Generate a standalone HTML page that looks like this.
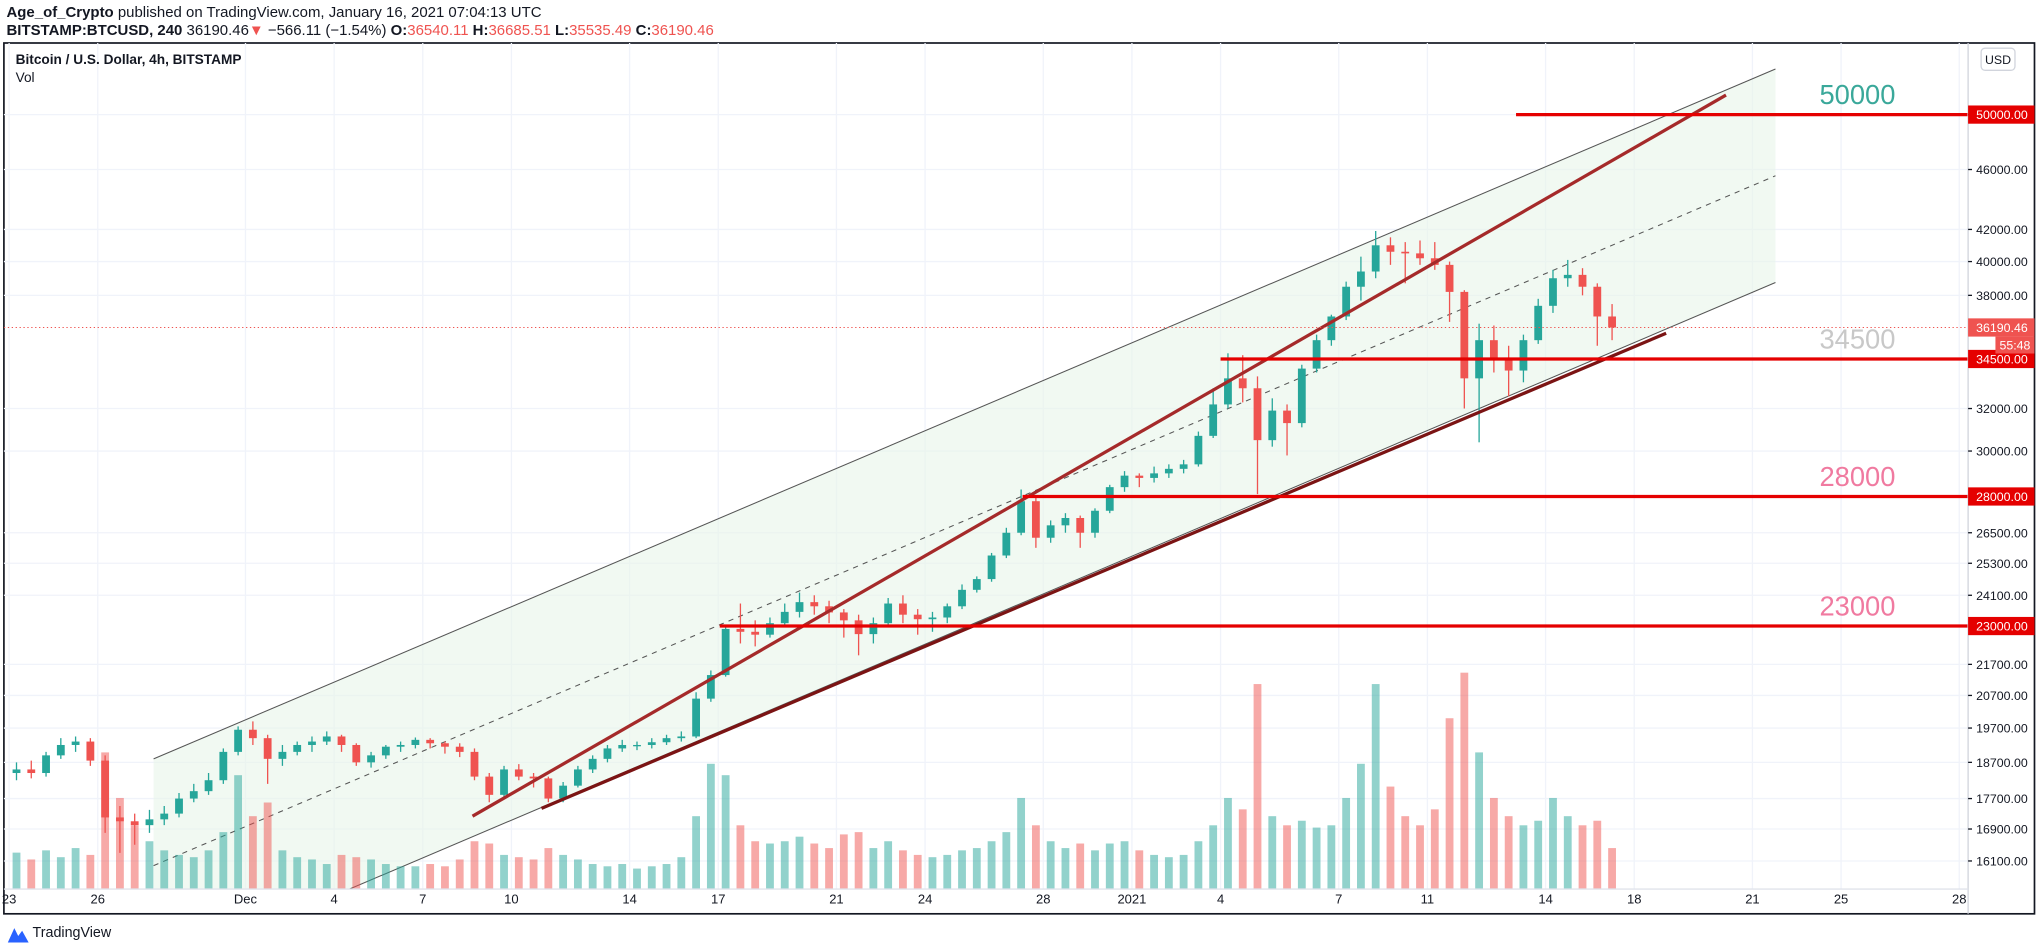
<!DOCTYPE html>
<html><head><meta charset="utf-8"><style>
html,body{margin:0;padding:0;background:#fff;}
svg{display:block;font-family:"Liberation Sans",sans-serif;}
</style></head><body>
<svg id="chart" width="2041" height="949" viewBox="0 0 1568 729" xmlns="http://www.w3.org/2000/svg">
<rect width="1568" height="729" fill="#fff"/>
<text x="5" y="13" font-size="11.5" fill="#131722"><tspan font-weight="bold">Age_of_Crypto</tspan> published on TradingView.com, January 16, 2021 07:04:13 UTC</text>
<text x="5" y="27" font-size="11.5" fill="#131722"><tspan font-weight="bold">BITSTAMP:BTCUSD, 240</tspan> 36190.46<tspan fill="#ef5350">▼</tspan> −566.11 (−1.54%) <tspan font-weight="bold">O:</tspan><tspan fill="#ef5350">36540.11</tspan> <tspan font-weight="bold">H:</tspan><tspan fill="#ef5350">36685.51</tspan> <tspan font-weight="bold">L:</tspan><tspan fill="#ef5350">35535.49</tspan> <tspan font-weight="bold">C:</tspan><tspan fill="#ef5350">36190.46</tspan></text>
<rect x="3" y="33" width="1560" height="669" fill="none" stroke="#131722" stroke-width="1.3"/>
<g id="grid"></g>
<defs><clipPath id="pane"><rect x="3" y="33" width="1509" height="650"/></clipPath></defs>
<g id="drawings" clip-path="url(#pane)"></g>
<g id="vol" clip-path="url(#pane)"></g>
<g id="candles" clip-path="url(#pane)"></g>
<g id="overlay" clip-path="url(#pane)"></g>
<line x1="1512" y1="33" x2="1512" y2="702" stroke="#d1d4dc" stroke-width="1"/>
<line x1="3" y1="683" x2="1512" y2="683" stroke="#e0e3eb" stroke-width="1"/>
<g id="yaxis"></g>
<g id="xaxis"></g>
<text x="12" y="49" font-size="10.5" font-weight="bold" fill="#131722">Bitcoin / U.S. Dollar, 4h, BITSTAMP</text>
<text x="12" y="63" font-size="10.5" fill="#131722">Vol</text>
<rect x="1522" y="37" width="26" height="17" rx="3" fill="#fff" stroke="#d1d4dc"/>
<text x="1535" y="49" font-size="9.5" fill="#131722" text-anchor="middle">USD</text>
<g>
<path d="M6 724 L11 713 L14 719 L17 715 L22 724 Z" fill="#2962ff"/>
<text x="25" y="720" font-size="11" fill="#131722">TradingView</text>
</g>
</svg>
<script>
const closes=[18500,18400,18900,19200,19300,18750,17200,17100,17000,17150,17300,17700,17900,18200,19000,19650,19400,18800,19000,19200,19300,19450,19200,18700,18900,19150,19200,19350,19250,19150,19000,18300,17800,18500,18300,18250,17700,18050,18500,18800,19100,19200,19200,19280,19400,19450,20600,21350,22900,22800,22700,23100,23500,23850,23700,23480,23200,22720,23100,23800,23400,23240,23300,23700,24300,24700,25600,26500,27800,26300,26800,27100,26500,27400,28400,28900,28800,29000,29200,29400,30700,32200,33500,33000,30500,31900,31300,34000,35500,36800,38500,39400,41000,40600,40500,40200,39800,38200,33500,35500,34500,33900,35500,37400,39000,39200,38500,36800,36190];
const highs=[18700,18750,19000,19400,19450,19400,18900,17500,17300,17400,17500,17850,18100,18400,19100,19750,19900,19500,19200,19300,19450,19600,19500,19250,19000,19200,19300,19420,19400,19300,19250,19100,18400,18600,18650,18400,18300,18150,18600,18900,19200,19350,19300,19400,19500,19600,20800,21500,23000,23800,23200,23300,23800,24200,24100,23900,23600,23400,23300,24000,24100,23600,23500,23800,24500,24800,25700,26700,28300,28000,27000,27300,27200,27500,28500,29100,29000,29300,29400,29600,30900,33000,34800,34700,33600,32500,32200,34200,35800,36900,38800,40300,41900,41500,41200,41300,41200,40000,38300,36400,36300,35200,35800,37800,39500,40100,39600,38700,37500];
const lows=[18200,18250,18300,18800,19000,18600,16800,16300,16500,16800,17000,17200,17600,17800,18100,18900,19200,18100,18600,18900,19000,19200,19000,18600,18550,18800,19000,19100,19100,18950,18850,18200,17600,17700,18200,18000,17600,17600,18000,18400,18700,19000,19050,19100,19200,19300,19400,20500,21300,22400,22300,22600,23000,23300,23400,23100,22600,22000,22400,23000,23100,22700,22800,23100,23600,24200,24600,25500,26400,25900,26100,26500,25900,26300,27300,28200,28400,28600,28800,29000,29300,30600,32000,32300,28100,30200,29800,31100,33800,35200,36600,37700,39000,39800,38700,39800,39500,36500,32000,30400,33800,32600,33300,35300,37000,38500,38000,35200,35500];
const volumes=[16,13,17,14,18,15,60,40,28,21,17,15,14,17,25,50,32,38,17,14,13,11,15,14,13,11,10,10,11,10,13,21,20,15,14,13,18,15,13,11,10,11,9,10,11,14,32,55,50,28,21,20,21,23,20,18,24,25,18,21,17,15,14,15,17,18,21,25,40,28,21,18,20,17,20,21,17,15,14,15,21,28,40,35,90,32,28,30,27,28,40,55,90,45,32,28,35,75,95,60,40,32,28,30,40,32,28,30,18];
const priceTicks=[50000,46000,42000,40000,38000,32000,30000,26500,25300,24100,21700,20700,19700,18700,17700,16900,16100];
const dayTicks=[0,3,8,11,14,17,21,24,28,31,35,38,41,45,48,52,55,59,62,66];
const dayLabels=["23","26","Dec","4","7","10","14","17","21","24","28","2021","4","7","11","14","18","21","25","28"];
const levels=[50000,34500,28000,23000];
const levelStartDays=[51.0,41.0,34.3,24.05];
const levelLabelColors=["#3aa89a","#c8c8c8","#f07aa0","#f07aa0"];
const lastPrice=36190.46;

const NS="http://www.w3.org/2000/svg";
function yP(p){return 88+(Math.log(50000)-Math.log(p))*506;}
function xD(d){return 7+d*22.7;}
function xI(i){return xD(i*0.5+0.25);}
function yV(v){return 683-v*1.75;}
function mk(parent,tag,attrs){const e=document.createElementNS(NS,tag);for(const k in attrs)e.setAttribute(k,attrs[k]);document.getElementById(parent).appendChild(e);return e;}

priceTicks.forEach(p=>{
  const g=mk('grid','line',{x1:3,x2:1512,y1:yP(p),y2:yP(p),stroke:'#f0f3fa'});
  
  
  const t=mk('yaxis','text',{x:1538,y:yP(p)+3.5,'font-size':9.5,fill:'#131722','text-anchor':'middle'});
  t.textContent=p.toFixed(2);
  
  
  mk('yaxis','line',{x1:1512,x2:1515,y1:yP(p),y2:yP(p),stroke:'#131722'});
});
dayTicks.forEach((d,k)=>{
  const g=mk('grid','line',{x1:xD(d),x2:xD(d),y1:33,y2:683,stroke:'#f0f3fa'});
  
  
  const t=mk('xaxis','text',{x:xD(d),y:694,'font-size':10,fill:'#131722','text-anchor':'middle'});
  t.textContent=dayLabels[k];
  
  
});

const ch=mk('drawings','polygon',{points:'118,583 1364,53 1364,217 118,747',fill:'#e8f5e9','fill-opacity':0.6});


const cu=mk('drawings','line',{x1:118,y1:583,x2:1364,y2:53,stroke:'#555',"stroke-width":0.8});


const cl=mk('drawings','line',{x1:118,y1:747,x2:1364,y2:217,stroke:'#555',"stroke-width":0.8});


const cm=mk('drawings','line',{x1:118,y1:665,x2:1364,y2:135,stroke:'#555',"stroke-width":0.8,"stroke-dasharray":'4,4'});



volumes.forEach((v,i)=>{
  const up=closes[i]>=(i?closes[i-1]:18400);
  const r=mk('vol','rect',{x:xI(i)-3,y:yV(v),width:6,height:683-yV(v),fill:up?'#26a69a':'#ef5350','fill-opacity':0.5});
  
  
});
closes.forEach((c,i)=>{
  const o=i?closes[i-1]:18400;
  const col=c>=o?'#26a69a':'#ef5350';
  const w=mk('candles','line',{x1:xI(i),x2:xI(i),y1:yP(highs[i]),y2:yP(lows[i]),stroke:col,'stroke-width':1});
  
  
  const top=Math.min(yP(o),yP(c)),h=Math.max(1,Math.abs(yP(o)-yP(c)));
  const b=mk('candles','rect',{x:xI(i)-3,y:top,width:6,height:h,fill:col});
  
  
});

const t1=mk('overlay','line',{x1:363,y1:627,x2:1326,y2:73,stroke:'#a52a2a','stroke-width':2.5});


const t2=mk('overlay','line',{x1:416,y1:621,x2:1280,y2:256,stroke:'#7b1414','stroke-width':2.5});


const pl=mk('overlay','line',{x1:3,x2:1512,y1:yP(lastPrice),y2:yP(lastPrice),stroke:'#ef5350','stroke-width':0.8,'stroke-dasharray':'1,2'});



levels.forEach((p,k)=>{
  const l=mk('overlay','line',{x1:xD(levelStartDays[k]),x2:1512,y1:yP(p),y2:yP(p),stroke:'#e50000','stroke-width':2.5});
  
  
  const t=mk('overlay','text',{x:1427,y:yP(p)-8,'font-size':21,fill:levelLabelColors[k],'text-anchor':'middle'});
  t.textContent=String(p);
  
  
  const r=mk('yaxis','rect',{x:1512,y:yP(p)-7,width:51,height:14,fill:'#e50000'});
  
  
  const tt=mk('yaxis','text',{x:1538,y:yP(p)+3.5,'font-size':9.5,fill:'#fff','text-anchor':'middle'});
  tt.textContent=p.toFixed(2);
  
  
});
const lb=mk('yaxis','rect',{x:1512,y:yP(lastPrice)-7,width:51,height:14,fill:'#ef5350'});


const lt=mk('yaxis','text',{x:1538,y:yP(lastPrice)+3.5,'font-size':9.5,fill:'#fff','text-anchor':'middle'});
lt.textContent=lastPrice.toFixed(2);


const cb=mk('yaxis','rect',{x:1533,y:yP(lastPrice)+7,width:30,height:13,fill:'#ef5350'});


const ct=mk('yaxis','text',{x:1548,y:yP(lastPrice)+17,'font-size':9.5,fill:'#fff','text-anchor':'middle'});
ct.textContent='55:48';


</script>
</body></html>
